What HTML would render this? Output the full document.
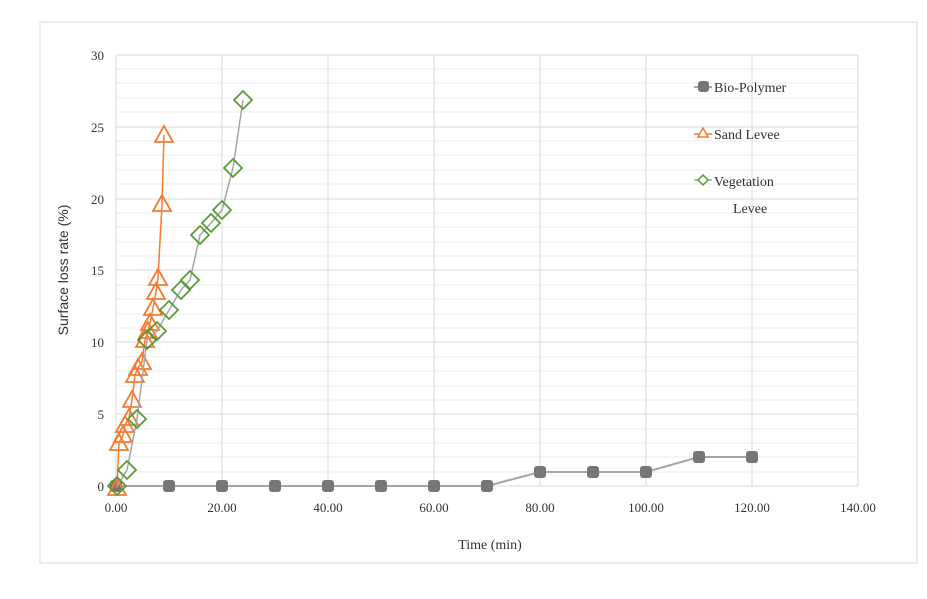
<!DOCTYPE html>
<html><head><style>
body{margin:0;background:#fff;}
svg{display:block;font-family:"Liberation Serif",serif;}
</style></head><body>
<svg width="927" height="599" viewBox="0 0 927 599">
<rect x="40" y="22" width="877" height="541" fill="#fff" stroke="#d9d9d9"/>
<g stroke="#ececec" stroke-width="1">
<line x1="116" x2="858" y1="472" y2="472"/><line x1="116" x2="858" y1="457" y2="457"/><line x1="116" x2="858" y1="443" y2="443"/><line x1="116" x2="858" y1="429" y2="429"/>
<line x1="116" x2="858" y1="400" y2="400"/><line x1="116" x2="858" y1="386" y2="386"/><line x1="116" x2="858" y1="371" y2="371"/><line x1="116" x2="858" y1="357" y2="357"/>
<line x1="116" x2="858" y1="328" y2="328"/><line x1="116" x2="858" y1="314" y2="314"/><line x1="116" x2="858" y1="299" y2="299"/><line x1="116" x2="858" y1="285" y2="285"/>
<line x1="116" x2="858" y1="256" y2="256"/><line x1="116" x2="858" y1="242" y2="242"/><line x1="116" x2="858" y1="227" y2="227"/><line x1="116" x2="858" y1="213" y2="213"/>
<line x1="116" x2="858" y1="184" y2="184"/><line x1="116" x2="858" y1="170" y2="170"/><line x1="116" x2="858" y1="155" y2="155"/><line x1="116" x2="858" y1="141" y2="141"/>
<line x1="116" x2="858" y1="112" y2="112"/><line x1="116" x2="858" y1="98" y2="98"/><line x1="116" x2="858" y1="83" y2="83"/><line x1="116" x2="858" y1="69" y2="69"/>
</g>
<g stroke="#d9d9d9" stroke-width="1">
<line x1="116" x2="858" y1="55" y2="55"/><line x1="116" x2="858" y1="127" y2="127"/><line x1="116" x2="858" y1="199" y2="199"/><line x1="116" x2="858" y1="270" y2="270"/><line x1="116" x2="858" y1="342" y2="342"/><line x1="116" x2="858" y1="414" y2="414"/><line x1="116" x2="858" y1="486" y2="486"/>
<line x1="116" x2="116" y1="55" y2="486"/><line x1="222" x2="222" y1="55" y2="486"/><line x1="328" x2="328" y1="55" y2="486"/><line x1="434" x2="434" y1="55" y2="486"/><line x1="540" x2="540" y1="55" y2="486"/><line x1="646" x2="646" y1="55" y2="486"/><line x1="752" x2="752" y1="55" y2="486"/><line x1="858" x2="858" y1="55" y2="486"/>
</g>
<g font-size="13" fill="#333" text-anchor="end">
<text x="104" y="491">0</text><text x="104" y="419">5</text><text x="104" y="347">10</text><text x="104" y="275">15</text><text x="104" y="204">20</text><text x="104" y="132">25</text><text x="104" y="60">30</text>
</g>
<g font-size="13" fill="#333" text-anchor="middle">
<text x="116" y="512">0.00</text><text x="222" y="512">20.00</text><text x="328" y="512">40.00</text><text x="434" y="512">60.00</text><text x="540" y="512">80.00</text><text x="646" y="512">100.00</text><text x="752" y="512">120.00</text><text x="858" y="512">140.00</text>
</g>
<text x="490" y="549" font-size="14" fill="#333" text-anchor="middle">Time (min)</text>
<text transform="translate(68,270) rotate(-90)" font-size="14" fill="#333" text-anchor="middle" font-family="Liberation Sans,sans-serif">Surface loss rate (%)</text>
<!-- Bio -->
<polyline fill="none" stroke="#a6a6a6" stroke-width="2" points="116,486 169,486 222,486 275,486 328,486 381,486 434,486 487,486 540,472 593,472 646,472 699,457 752,457"/>
<g fill="#767676">
<rect x="110" y="480" width="12" height="12" rx="3"/><rect x="163" y="480" width="12" height="12" rx="3"/><rect x="216" y="480" width="12" height="12" rx="3"/><rect x="269" y="480" width="12" height="12" rx="3"/><rect x="322" y="480" width="12" height="12" rx="3"/><rect x="375" y="480" width="12" height="12" rx="3"/><rect x="428" y="480" width="12" height="12" rx="3"/><rect x="481" y="480" width="12" height="12" rx="3"/><rect x="534" y="466" width="12" height="12" rx="3"/><rect x="587" y="466" width="12" height="12" rx="3"/><rect x="640" y="466" width="12" height="12" rx="3"/><rect x="693" y="451" width="12" height="12" rx="3"/><rect x="746" y="451" width="12" height="12" rx="3"/>
</g>
<!-- Sand -->
<polyline fill="none" stroke="#f47c30" stroke-width="1.5" points="117,488 119,443 123,435 125,425 129,418 132,400 135,375 138,368 142,362 145,340 148,331 150,323 153,308 156,292 158,278 162,204 164,135"/>
<g fill="none" stroke="#f47c30" stroke-width="1.8">
<path id="t" d="M0,-9 L9,7 L-9,7Z" transform="translate(117,488)"/>
<path d="M0,-9 L9,7 L-9,7Z" transform="translate(119,443)"/><path d="M0,-9 L9,7 L-9,7Z" transform="translate(123,435)"/><path d="M0,-9 L9,7 L-9,7Z" transform="translate(125,425)"/><path d="M0,-9 L9,7 L-9,7Z" transform="translate(129,418)"/><path d="M0,-9 L9,7 L-9,7Z" transform="translate(132,400)"/><path d="M0,-9 L9,7 L-9,7Z" transform="translate(135,375)"/><path d="M0,-9 L9,7 L-9,7Z" transform="translate(138,368)"/><path d="M0,-9 L9,7 L-9,7Z" transform="translate(142,362)"/><path d="M0,-9 L9,7 L-9,7Z" transform="translate(145,340)"/><path d="M0,-9 L9,7 L-9,7Z" transform="translate(148,331)"/><path d="M0,-9 L9,7 L-9,7Z" transform="translate(150,323)"/><path d="M0,-9 L9,7 L-9,7Z" transform="translate(153,308)"/><path d="M0,-9 L9,7 L-9,7Z" transform="translate(156,292)"/><path d="M0,-9 L9,7 L-9,7Z" transform="translate(158,278)"/><path d="M0,-9 L9,7 L-9,7Z" transform="translate(162,204)"/><path d="M0,-9 L9,7 L-9,7Z" transform="translate(164,135)"/>
</g>
<!-- Veg -->
<polyline fill="none" stroke="#a6a6a6" stroke-width="1.5" points="117,486 127,470 137,419 147,340 157,331 169,310 181,290 190,280 200,235 211,223 222,210 233,168 243,100"/>
<g fill="none" stroke="#5a9a35" stroke-width="1.8">
<path d="M0,-9 L9,0 L0,9 L-9,0Z" transform="translate(117,486)"/><path d="M0,-9 L9,0 L0,9 L-9,0Z" transform="translate(127,470)"/><path d="M0,-9 L9,0 L0,9 L-9,0Z" transform="translate(137,419)"/><path d="M0,-9 L9,0 L0,9 L-9,0Z" transform="translate(147,340)"/><path d="M0,-9 L9,0 L0,9 L-9,0Z" transform="translate(157,331)"/><path d="M0,-9 L9,0 L0,9 L-9,0Z" transform="translate(169,310)"/><path d="M0,-9 L9,0 L0,9 L-9,0Z" transform="translate(181,290)"/><path d="M0,-9 L9,0 L0,9 L-9,0Z" transform="translate(190,280)"/><path d="M0,-9 L9,0 L0,9 L-9,0Z" transform="translate(200,235)"/><path d="M0,-9 L9,0 L0,9 L-9,0Z" transform="translate(211,223)"/><path d="M0,-9 L9,0 L0,9 L-9,0Z" transform="translate(222,210)"/><path d="M0,-9 L9,0 L0,9 L-9,0Z" transform="translate(233,168)"/><path d="M0,-9 L9,0 L0,9 L-9,0Z" transform="translate(243,100)"/>
</g>
<!-- Legend -->
<rect x="684" y="74" width="70" height="160" fill="#fff" opacity="0"/>
<line x1="694" x2="712" y1="87" y2="87" stroke="#a6a6a6" stroke-width="2"/><rect x="698" y="81" width="11" height="11" rx="3" fill="#767676"/>
<text x="714" y="92" font-size="14" fill="#333">Bio-Polymer</text>
<line x1="694" x2="712" y1="134" y2="134" stroke="#f47c30" stroke-width="1.5"/><path d="M703,128 L708,137 L698,137Z" fill="#fff" stroke="#f47c30" stroke-width="1.5"/>
<text x="714" y="139" font-size="14" fill="#333">Sand Levee</text>
<line x1="694" x2="712" y1="180" y2="180" stroke="#a6a6a6" stroke-width="1.5"/><path d="M703,175 L708,180 L703,185 L698,180Z" fill="#fff" stroke="#5a9a35" stroke-width="1.5"/>
<text x="714" y="186" font-size="14" fill="#333">Vegetation</text>
<text x="733" y="213" font-size="14" fill="#333">Levee</text>
</svg>
</body></html>
